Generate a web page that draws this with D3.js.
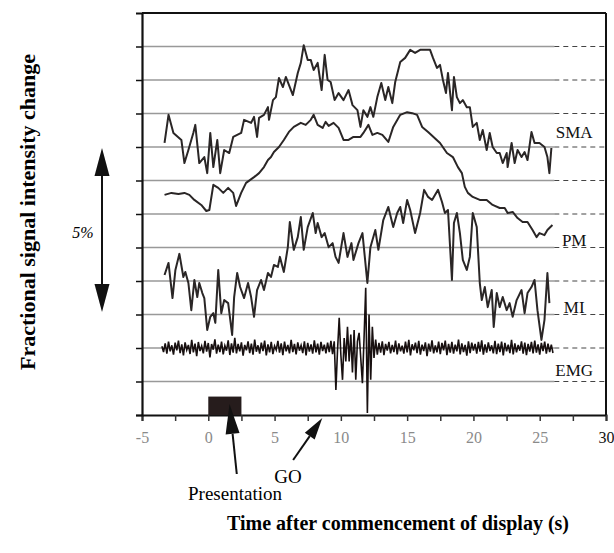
<!DOCTYPE html>
<html>
<head>
<meta charset="utf-8">
<script src="https://cdn.jsdelivr.net/npm/d3@7/dist/d3.min.js"></script>
<style>
  body { margin: 0; background: #fff; }
  svg { display: block; font-family: "Liberation Serif", "DejaVu Serif", serif; }
</style>
</head>
<body>
<div id="chart"></div>
<script>
// values: [time (s), signal (% units, gridline = 1%)]
let smaData = [[-3.30,8.12],[-3.00,8.96],[-2.63,8.42],[-2.03,8.21],[-1.80,7.52],[-1.50,7.91],[-1.13,8.42],[-0.98,8.66],[-0.68,7.52],[-0.30,7.70],[-0.08,7.22],[0.15,8.42],[0.38,7.40],[0.68,8.21],[0.90,7.22],[1.20,7.91],[1.58,7.82],[1.88,8.30],[2.48,8.42],[2.70,8.81],[3.23,8.72],[3.45,8.90],[3.68,8.30],[3.83,8.87],[4.20,8.96],[4.50,9.19],[4.58,8.81],[4.88,9.40],[5.10,9.49],[5.33,10.06],[5.63,9.79],[5.85,10.09],[6.38,9.55],[6.75,10.21],[6.98,10.51],[7.20,11.04],[7.50,10.60],[7.73,10.60],[7.95,10.30],[8.25,10.51],[8.55,9.70],[8.78,10.75],[9.00,10.00],[9.23,9.94],[9.53,9.40],[9.83,9.61],[10.20,9.40],[10.58,9.70],[10.88,9.25],[11.25,9.10],[11.48,8.60],[11.70,9.10],[12.00,8.90],[12.23,9.19],[12.45,8.90],[12.75,9.49],[13.05,9.91],[13.35,9.40],[13.58,9.79],[13.88,9.31],[14.10,9.94],[14.48,10.54],[14.85,10.66],[15.23,10.90],[15.60,10.81],[15.98,10.90],[16.35,10.90],[16.73,10.90],[16.95,10.66],[17.25,10.36],[17.48,10.45],[17.70,10.00],[17.93,9.61],[18.08,10.21],[18.38,9.10],[18.53,10.09],[18.75,9.49],[18.98,9.31],[19.20,9.40],[19.50,9.19],[19.73,9.19],[19.95,8.60],[20.25,8.72],[20.48,8.21],[20.70,8.51],[21.00,7.91],[21.23,8.42],[21.45,8.00],[21.76,7.82],[21.98,7.82],[22.21,7.52],[22.51,7.82],[22.58,7.40],[22.88,8.12],[23.11,7.52],[23.33,7.91],[23.63,7.70],[23.86,7.85],[24.08,7.61],[24.38,8.45],[24.61,8.12],[24.98,8.12],[25.36,8.00],[25.58,7.70],[25.73,7.22],[25.88,7.97]]

let pmData = [[-3.30,6.57],[-2.78,6.63],[-2.25,6.60],[-1.80,6.63],[-1.43,6.57],[-1.05,6.42],[-0.53,6.27],[-0.15,6.09],[0.08,6.12],[0.38,6.87],[0.75,6.78],[1.13,6.63],[1.50,6.78],[1.88,6.63],[2.10,6.24],[2.48,6.63],[2.85,6.93],[3.45,7.10],[3.83,7.22],[4.20,7.40],[4.50,7.61],[4.73,7.70],[4.95,7.85],[5.33,8.00],[5.70,8.21],[6.08,8.45],[6.45,8.60],[6.98,8.72],[7.35,8.66],[7.73,8.81],[7.95,8.96],[8.25,8.66],[8.63,8.57],[8.85,8.75],[9.08,8.63],[9.45,8.72],[9.83,8.57],[10.20,8.21],[10.58,8.21],[10.95,8.30],[11.48,8.30],[11.70,8.42],[12.08,8.66],[12.38,8.36],[12.75,8.42],[13.13,8.36],[13.58,8.15],[13.95,8.60],[14.48,8.96],[15.00,9.04],[15.38,9.01],[15.75,8.96],[16.13,8.60],[16.58,8.45],[17.48,8.12],[18.00,7.82],[18.45,7.70],[18.83,7.40],[19.13,7.22],[19.35,6.81],[19.58,6.63],[19.95,6.51],[20.48,6.42],[21.00,6.42],[21.45,6.27],[21.98,6.18],[22.36,6.18],[22.58,6.03],[22.96,6.06],[23.33,5.88],[23.71,5.76],[24.08,5.76],[24.46,5.52],[24.76,5.31],[24.98,5.43],[25.36,5.37],[25.58,5.52],[25.96,5.67]]

let miData = [[-3.30,4.18],[-3.00,4.54],[-2.70,3.49],[-2.48,4.33],[-2.18,4.81],[-1.88,4.12],[-1.73,4.27],[-1.50,3.94],[-1.28,3.13],[-1.05,4.03],[-0.83,3.52],[-0.68,3.94],[-0.45,3.64],[-0.30,3.49],[-0.08,2.54],[0.15,2.93],[0.38,3.04],[0.53,2.75],[0.75,4.33],[0.98,3.04],[1.20,3.43],[1.50,3.34],[1.80,2.39],[1.95,3.52],[2.18,4.24],[2.40,3.82],[2.70,3.49],[3.00,3.94],[3.23,3.52],[3.45,2.93],[3.68,3.73],[3.98,4.03],[4.20,3.73],[4.50,4.24],[4.73,4.12],[4.95,4.48],[5.25,4.42],[5.40,4.72],[5.70,4.27],[6.00,5.01],[6.15,5.76],[6.45,4.93],[6.75,5.31],[6.98,5.91],[7.20,4.93],[7.50,5.61],[7.88,6.03],[8.10,5.43],[8.25,5.73],[8.55,5.31],[8.78,5.43],[9.08,5.01],[9.38,5.13],[9.60,4.72],[9.83,4.54],[10.20,5.43],[10.50,4.72],[10.80,5.13],[10.95,4.63],[11.33,5.13],[11.63,5.43],[12.00,3.94],[12.23,5.01],[12.60,5.52],[12.83,4.93],[13.20,5.82],[13.58,6.21],[13.95,5.61],[14.25,6.03],[14.48,6.21],[14.70,5.73],[15.00,6.42],[15.23,6.12],[15.60,5.43],[15.98,6.03],[16.28,6.72],[16.58,6.51],[16.88,6.42],[17.10,6.57],[17.33,6.72],[17.63,6.36],[17.85,6.03],[18.08,6.12],[18.38,4.03],[18.53,5.73],[18.75,6.03],[18.98,5.43],[19.20,4.63],[19.50,4.33],[19.73,4.72],[19.95,6.03],[20.25,5.61],[20.48,3.94],[20.63,3.43],[20.86,3.82],[21.08,3.22],[21.38,3.73],[21.53,2.63],[21.76,3.64],[21.98,3.22],[22.21,3.52],[22.51,3.13],[22.73,3.34],[22.96,2.93],[23.26,3.43],[23.63,3.73],[23.86,3.04],[24.08,3.64],[24.38,3.82],[24.61,4.03],[24.83,3.13],[25.13,2.24],[25.36,2.84],[25.58,4.24],[25.73,3.34]]

// EMG sampled every 0.125 s starting at -3.5 s
let emgStart = -3.5
let emgStep = 0.125
let emgValues = [
  2.05, 1.88, 2.14, 1.83, 2.19, 1.90, 2.08, 1.80, 2.16, 1.93, 2.22, 1.85,
  2.11, 1.78, 2.17, 1.94, 2.09, 1.82, 2.24, 1.87, 2.13, 1.76, 2.18, 1.91,
  2.06, 1.84, 2.21, 1.89, 2.15, 1.72, 2.12, 1.95, 2.26, 1.83, 2.10, 1.88,
  2.19, 1.81, 2.07, 1.92, 2.23, 1.79, 2.14, 1.86, 2.30, 1.84, 2.12, 1.90,
  2.17, 1.77, 2.09, 1.93, 2.20, 1.85, 2.13, 1.80, 2.25, 1.89, 2.08, 1.83,
  2.16, 1.91, 2.22, 1.78, 2.11, 1.87, 2.18, 1.82, 2.06, 1.94, 2.21, 1.86,
  2.14, 1.79, 2.19, 1.90, 2.09, 1.84, 2.24, 1.88, 2.12, 1.81, 2.17, 1.92,
  2.08, 1.85, 2.20, 1.78, 2.15, 1.89, 2.11, 1.83, 2.23, 1.87, 2.13, 1.80,
  2.18, 1.91, 2.10, 1.84, 2.16, 1.88, 2.21, 1.82,
  // burst around the movement
  2.20, 0.75, 1.95, 2.90, 1.80, 1.05, 2.30, 1.60, 2.63, 1.60, 2.40, 1.27,
  2.54, 1.05, 2.20, 2.45, 1.70, 0.95, 2.30, 3.80, 0.06, 3.00, 1.05, 2.63, 1.70,
  2.25, 1.80, 2.15, 1.86, 2.20, 1.79, 2.12, 1.92, 2.18, 1.84, 2.09, 1.88,
  2.22, 1.81, 2.14, 1.90, 2.07, 1.83, 2.19, 1.87, 2.24, 1.78, 2.11, 1.93,
  2.16, 1.85, 2.21, 1.80, 2.10, 1.91, 2.17, 1.76, 2.13, 1.89, 2.23, 1.84,
  2.08, 1.87, 2.19, 1.82, 2.15, 1.93, 2.22, 1.79, 2.12, 1.86, 2.18, 1.83,
  2.10, 1.90, 2.25, 1.81, 2.14, 1.88, 2.09, 1.77, 2.20, 1.85, 2.16, 1.92,
  2.12, 1.83, 2.18, 1.89, 2.23, 1.80, 2.11, 1.86, 2.17, 1.91, 2.08, 1.84,
  2.21, 1.82, 2.13, 1.88, 2.19, 1.78, 2.15, 1.90, 2.10, 1.85, 2.24, 1.81,
  2.14, 1.87, 2.09, 1.92, 2.20, 1.83, 2.16, 1.79, 2.12, 1.89, 2.18, 1.84,
  2.22, 1.86, 2.11, 1.80, 2.15, 1.91, 2.19, 1.83, 2.13, 1.88, 2.10, 1.85
]

let seriesLabels = ["SMA", "PM", "MI", "EMG"]
let labelLevels = [8.45, 5.22, 3.22, 1.34]
let xTicks = [-5, -2.5, 0, 2.5, 5, 7.5, 10, 12.5, 15, 17.5, 20, 22.5, 25, 27.5, 30]
let gridLevels = [1, 2, 3, 4, 5, 6, 7, 8, 9, 10, 11]
let presentation = [0, 2.5]

let width = 614, height = 553

let x = d3.scaleLinear().domain([-5, 30]).range([142, 606])
let y = d3.scaleLinear().domain([0, 12]).range([415, 13])

let svg = d3.select("#chart")
    .append("svg")
    .attr("width", width)
    .attr("height", height)

svg.append("rect").attr("width", width).attr("height", height).attr("fill", "#fff")

// grey gridlines, then dashed stubs out to the right frame
svg.selectAll(".grid")
    .data(gridLevels)
    .enter()
    .append("line")
    .attr("x1", x(-5)).attr("x2", x(26.1))
    .attr("y1", d => y(d)).attr("y2", d => y(d))
    .attr("stroke", "#999")
    .attr("stroke-width", 1.5)

svg.selectAll(".gridstub")
    .data(gridLevels)
    .enter()
    .append("line")
    .attr("x1", x(26.1)).attr("x2", x(30))
    .attr("y1", d => y(d)).attr("y2", d => y(d))
    .attr("stroke", "#444")
    .attr("stroke-width", 1)
    .attr("stroke-dasharray", "5,4")

// axes
let xAxis = svg.append("g")
    .attr("transform", `translate(0, ${y(0)})`)
    .call(d3.axisBottom(x)
        .tickValues(xTicks)
        .tickSize(6)
        .tickPadding(11)
        .tickFormat(d => d % 5 === 0 ? d : ""))
xAxis.attr("font-family", "Liberation Serif").attr("font-size", 16)
xAxis.select(".domain").attr("stroke", "#111").attr("stroke-width", 2)
xAxis.selectAll(".tick line").attr("stroke", "#333").attr("stroke-width", 1.5)
xAxis.selectAll("text")
    .attr("font-family", "Liberation Serif")
    .attr("font-size", 16)
    .attr("fill", d => d === 30 ? "#111" : "#8a8a8a")

let yAxis = svg.append("g")
    .attr("transform", `translate(${x(-5)}, 0)`)
    .call(d3.axisLeft(y)
        .tickValues(d3.range(0, 12))
        .tickSize(6)
        .tickFormat(""))
yAxis.select(".domain").attr("stroke", "#111").attr("stroke-width", 2.2)
yAxis.selectAll(".tick line").attr("stroke", "#111").attr("stroke-width", 1.5)

// top and right frame
svg.append("line")
    .attr("x1", x(-5)).attr("x2", x(30))
    .attr("y1", y(12)).attr("y2", y(12))
    .attr("stroke", "#111").attr("stroke-width", 2)
svg.append("line")
    .attr("x1", x(30)).attr("x2", x(30))
    .attr("y1", y(12)).attr("y2", y(0))
    .attr("stroke", "#111").attr("stroke-width", 2)

// traces
let line = d3.line()
    .x(d => x(d[0]))
    .y(d => y(d[1]))

let emgData = emgValues.map((v, i) => [emgStart + i * emgStep, v])

let traces = [smaData, pmData, miData]
svg.selectAll(".trace")
    .data(traces)
    .enter()
    .append("path")
    .attr("d", line)
    .attr("fill", "none")
    .attr("stroke", "#2a2626")
    .attr("stroke-width", 2)
    .attr("stroke-linejoin", "round")

svg.append("path")
    .attr("d", line(emgData))
    .attr("fill", "none")
    .attr("stroke", "#181010")
    .attr("stroke-width", 1.6)

// presentation block
svg.append("rect")
    .attr("x", x(presentation[0]))
    .attr("y", y(0.55))
    .attr("width", x(presentation[1]) - x(presentation[0]))
    .attr("height", y(0) - y(0.55))
    .attr("fill", "#261c1c")

// series labels
svg.selectAll(".label")
    .data(seriesLabels)
    .enter()
    .append("text")
    .attr("x", x(27.6))
    .attr("y", (d, i) => y(labelLevels[i]))
    .attr("dy", "0.35em")
    .attr("text-anchor", "middle")
    .style("font-size", "17px")
    .attr("fill", "#111")
    .text(d => d)

// arrows
function arrow(x1, y1, x2, y2, headLen, headW) {
    let a = Math.atan2(y2 - y1, x2 - x1)
    let bx = x2 - headLen * Math.cos(a), by = y2 - headLen * Math.sin(a)
    let px = -Math.sin(a) * headW / 2, py = Math.cos(a) * headW / 2
    svg.append("line")
        .attr("x1", x1).attr("y1", y1).attr("x2", bx).attr("y2", by)
        .attr("stroke", "#111").attr("stroke-width", 2)
    svg.append("path")
        .attr("d", `M${x2},${y2}L${bx + px},${by + py}L${bx - px},${by - py}Z`)
        .attr("fill", "#111")
}

arrow(x(2.15), 474, x(1.6), 404, 30, 14)
arrow(x(6.4), 460, x(8.6), 418, 22, 12)

// 5% scale bar
arrow(102, 232, 102, 148, 28, 15)
arrow(102, 232, 102, 312, 28, 15)

svg.append("text")
    .attr("x", 83).attr("y", 232)
    .attr("dy", "0.35em")
    .attr("text-anchor", "middle")
    .style("font-size", "16px")
    .style("font-style", "italic")
    .text("5%")

svg.append("text")
    .attr("x", 288).attr("y", 483)
    .attr("text-anchor", "middle")
    .style("font-size", "19px")
    .text("GO")

svg.append("text")
    .attr("x", 235).attr("y", 500)
    .attr("text-anchor", "middle")
    .style("font-size", "19px")
    .text("Presentation")

// axis titles
svg.append("text")
    .attr("x", 398).attr("y", 523)
    .attr("dy", "0.35em")
    .attr("text-anchor", "middle")
    .style("font-size", "20px")
    .style("font-weight", "bold")
    .text("Time after commencement of display (s)")

svg.append("text")
    .attr("transform", "translate(27, 212) rotate(-90)")
    .attr("dy", "0.35em")
    .attr("text-anchor", "middle")
    .style("font-size", "22px")
    .style("font-weight", "bold")
    .text("Fractional signal intensity change")
</script>
</body>
</html>
